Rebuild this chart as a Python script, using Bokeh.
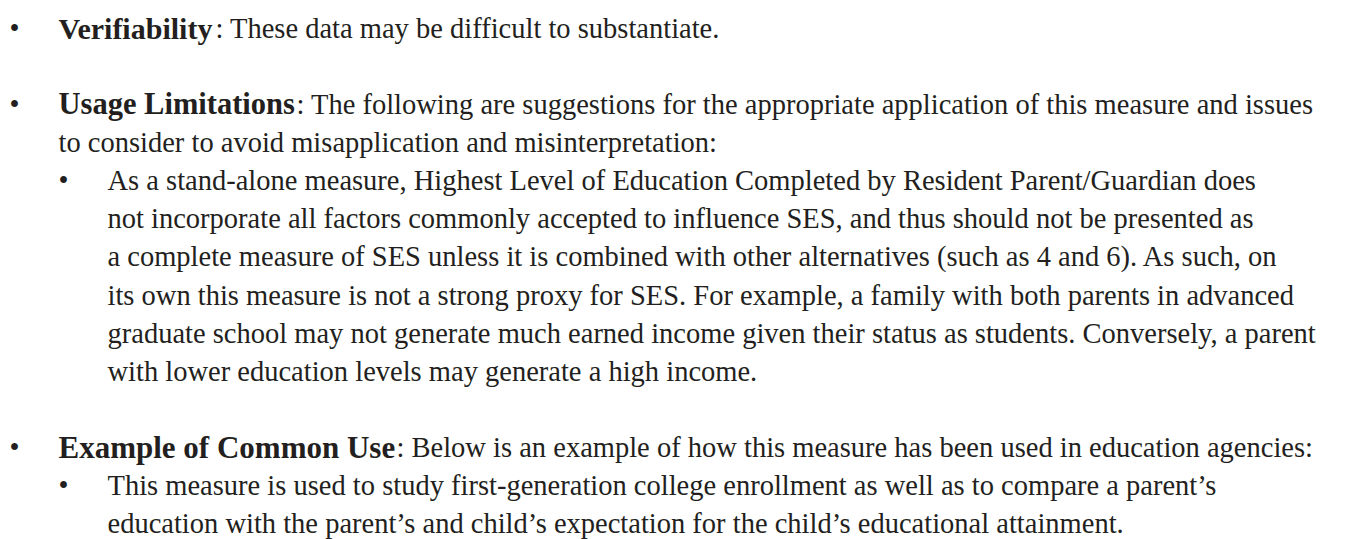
from bokeh.plotting import figure
from bokeh.models import Range1d
from bokeh.core.properties import value
from bokeh.embed import file_html
from bokeh.resources import INLINE

FONT = "Liberation Serif"
SIZE = "28.5px"
COLOR = "#231f20"

# Top-level bullet headings (bold) and the plain text that follows them
heading_labels = ["Verifiability", "Usage Limitations", "Example of Common Use"]
heading_rest = [
    ": These data may be difficult to substantiate.",
    ": The following are suggestions for the appropriate application of this measure and issues",
    ": Below is an example of how this measure has been used in education agencies:",
]
heading_rest_x = [215, 296, 396]
heading_bold_size = ["30px", "30.5px", "31px"]
heading_row = [0, 2, 11]

cont_lines = ["to consider to avoid misapplication and misinterpretation:"]
cont_row = [3]

sub_lines = [
    "As a stand-alone measure, Highest Level of Education Completed by Resident Parent/Guardian does",
    "not incorporate all factors commonly accepted to influence SES, and thus should not be presented as",
    "a complete measure of SES unless it is combined with other alternatives (such as 4 and 6). As such, on",
    "its own this measure is not a strong proxy for SES. For example, a family with both parents in advanced",
    "graduate school may not generate much earned income given their status as students. Conversely, a parent",
    "with lower education levels may generate a high income.",
    "This measure is used to study first-generation college enrollment as well as to compare a parent\u2019s",
    "education with the parent\u2019s and child\u2019s expectation for the child\u2019s educational attainment.",
]
sub_row = [4, 5, 6, 7, 8, 9, 12, 13]
sub_bullet_row = [4, 12]

TOP = 27.5
STEP = 38.15


def ys(rows):
    return [TOP + STEP * r for r in rows]


p = figure(width=1345, height=539, output_backend="svg", toolbar_location=None,
           x_range=Range1d(0, 1345), y_range=Range1d(539, 0), min_border=0)
p.axis.visible = False
p.grid.visible = False
p.outline_line_color = None
p.background_fill_color = "white"
p.border_fill_color = "white"

common = dict(text_font=value(FONT), text_color=COLOR, text_baseline="alphabetic")

# top-level bullets
p.text(x=[14] * len(heading_row), y=ys(heading_row), text=["\u2022"] * len(heading_row),
       text_align="center", text_font_size=value(SIZE), **common)
for lab, fs, yy in zip(heading_labels, heading_bold_size, ys(heading_row)):
    p.text(x=[58], y=[yy], text=[lab], text_align="left", text_font_style="bold",
           text_font_size=value(fs), **common)
p.text(x=heading_rest_x, y=ys(heading_row), text=heading_rest, text_align="left",
       text_font_size=value(SIZE), **common)
p.text(x=[58] * len(cont_lines), y=ys(cont_row), text=cont_lines, text_align="left",
       text_font_size=value(SIZE), **common)

# sub bullets
p.text(x=[63] * len(sub_bullet_row), y=ys(sub_bullet_row), text=["\u2022"] * len(sub_bullet_row),
       text_align="center", text_font_size=value(SIZE), **common)
p.text(x=[107] * len(sub_lines), y=ys(sub_row), text=sub_lines, text_align="left",
       text_font_size=value(SIZE), **common)

open("out.html", "w").write(file_html(p, INLINE))
